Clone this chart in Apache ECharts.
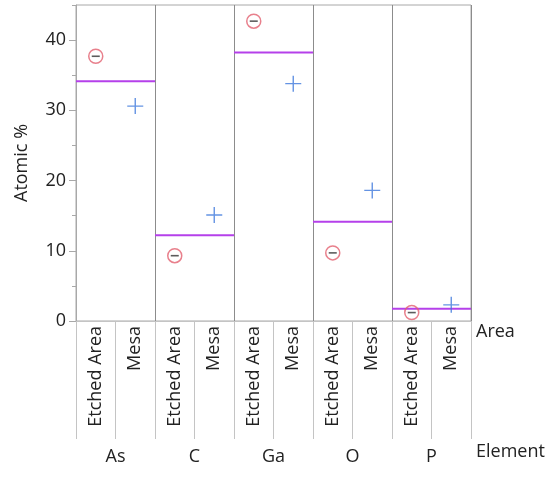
<!DOCTYPE html>
<html>
<head>
<meta charset="utf-8">
<script src="https://cdn.jsdelivr.net/npm/echarts@6/dist/echarts.min.js"></script>
<style>html,body{margin:0;padding:0;background:#fff}#c{width:559px;height:478px}</style>
</head>
<body>
<div id="c"></div>
<script>
const elements = ['As', 'C', 'Ga', 'O', 'P'];
const areas = ['Etched Area', 'Mesa'];
const etched = [37.7, 9.3, 42.7, 9.7, 1.2];
const mesa = [30.6, 15.1, 33.8, 18.6, 2.3];
const yMajorTicks = [0, 10, 20, 30, 40];
const yMinorTicks = [5, 15, 25, 35, 45];

const FONT = '"Open Sans", "Noto Sans", sans-serif';
const FS = 18;
const cats = [];
elements.forEach(() => areas.forEach(a => cats.push(a)));

const etchedData = etched.map((v, i) => [i * 2, v]);
const mesaData = mesa.map((v, i) => [i * 2 + 1, v]);
const meanData = [];
elements.forEach((e, i) => {
  const m = (etched[i] + mesa[i]) / 2;
  meanData.push([i * 2, m], [i * 2 + 2, m], [i * 2 + 2, '-']);
});

const chart = echarts.init(document.getElementById('c'));
chart.setOption({
  animation: false,
  grid: { left: 76, right: 88, top: 5, bottom: 157, show: true, borderColor: '#a8a8a8', borderWidth: 1, backgroundColor: 'transparent', containLabel: false, outerBoundsMode: 'none' },
  xAxis: [
    {
      type: 'category', data: cats, position: 'bottom', boundaryGap: true,
      axisLine: { show: true, lineStyle: { color: '#b8b8b8', width: 1 } },
      axisTick: { show: true, interval: 0, alignWithLabel: false, length: 118, lineStyle: { color: '#c4c4c4' } },
      axisLabel: { interval: 0, rotate: 90, margin: 5, fontSize: FS, color: '#222', fontFamily: FONT },
      name: 'Area', nameLocation: 'end', nameGap: 5, nameMoveOverlap: false,
      nameTextStyle: { fontSize: FS, color: '#222', fontFamily: FONT, align: 'left', verticalAlign: 'top', padding: [2, 0, 0, 0] },
      splitLine: { show: false }
    },
    {
      type: 'category', data: elements, position: 'bottom', offset: 118, boundaryGap: true,
      axisLine: { show: true, lineStyle: { color: '#c4c4c4', width: 1 } },
      axisTick: { show: true, interval: 0, alignWithLabel: false, length: 40, lineStyle: { color: '#c4c4c4' } },
      axisLabel: { interval: 0, margin: 9, fontSize: FS, color: '#222', fontFamily: FONT },
      name: 'Element', nameLocation: 'end', nameGap: 5, nameMoveOverlap: false,
      nameTextStyle: { fontSize: FS, color: '#222', fontFamily: FONT, align: 'left', verticalAlign: 'top', padding: [122, 0, 0, 0] },
      splitLine: { show: false }
    },
    {
      type: 'value', min: 0, max: elements.length * 2, interval: 2, show: true,
      axisLine: { show: false }, axisTick: { show: false }, axisLabel: { show: false },
      splitLine: { show: true, lineStyle: { color: '#8c8c8c', width: 1 } }
    }
  ],
  yAxis: [
    {
      type: 'value', min: 0, max: 45,
      name: 'Atomic %', nameLocation: 'middle', nameGap: 45, nameMoveOverlap: false,
      nameTextStyle: { fontSize: FS, color: '#222', fontFamily: FONT },
      axisLine: { show: true, lineStyle: { color: '#a8a8a8' } },
      axisTick: { show: true, length: 7, customValues: yMajorTicks, lineStyle: { color: '#a8a8a8' } },
      axisLabel: { customValues: yMajorTicks, fontSize: FS, color: '#222', fontFamily: FONT, margin: 10 },
      splitLine: { show: false }
    },
    {
      type: 'value', min: 0, max: 45, position: 'left',
      axisLine: { show: false },
      axisTick: { show: true, length: 4, customValues: yMinorTicks, lineStyle: { color: '#a8a8a8' } },
      axisLabel: { show: false },
      splitLine: { show: false }
    }
  ],
  series: [
    {
      type: 'line', xAxisIndex: 2, yAxisIndex: 0, data: meanData, symbol: 'none',
      lineStyle: { color: '#b540ea', width: 2 }, connectNulls: false, z: 3
    },
    {
      type: 'scatter', xAxisIndex: 0, yAxisIndex: 0, data: etchedData,
      symbol: 'circle', symbolSize: 14,
      itemStyle: { color: 'rgba(0,0,0,0)', borderColor: '#e2606f', borderWidth: 1.5 }, z: 4
    },
    {
      type: 'scatter', xAxisIndex: 0, yAxisIndex: 0, data: etchedData,
      symbol: 'path://M0,0H10V2H0Z', symbolSize: [8, 1.6], symbolKeepAspect: false,
      itemStyle: { color: '#333' }, z: 5
    },
    {
      type: 'scatter', xAxisIndex: 0, yAxisIndex: 0, data: mesaData,
      symbol: 'path://M0,7.3H16V8.7H0Z M7.3,0H8.7V16H7.3Z', symbolSize: 16,
      itemStyle: { color: '#3d78dc' }, z: 4
    }
  ]
});
</script>
</body>
</html>
